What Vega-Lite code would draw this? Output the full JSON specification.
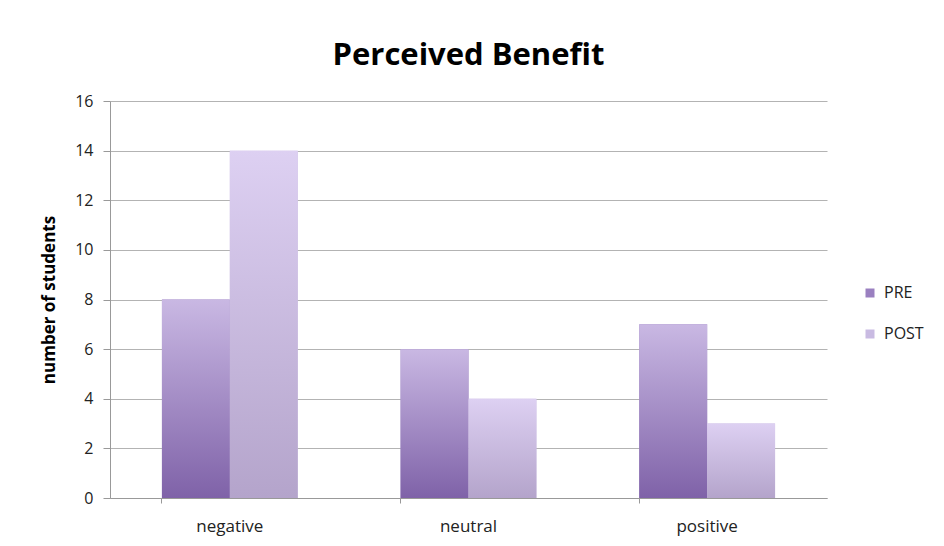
{
  "$schema": "https://vega.github.io/schema/vega-lite/v6.json",
  "autosize": {"type": "none"},
  "width": 717,
  "height": 397,
  "padding": {"left": 110, "top": 101, "right": 117, "bottom": 48},
  "background": "white",
  "config": {
    "font": "Open Sans",
    "view": {"stroke": null}
  },
  "title": {
    "text": "Perceived Benefit",
    "fontSize": 31,
    "fontWeight": "bold",
    "font": "Open Sans",
    "color": "#000000",
    "anchor": "middle",
    "offset": 21
  },
  "data": {
    "values": [
      {"category": "negative", "series": "PRE", "value": 8},
      {"category": "negative", "series": "POST", "value": 14},
      {"category": "neutral", "series": "PRE", "value": 6},
      {"category": "neutral", "series": "POST", "value": 4},
      {"category": "positive", "series": "PRE", "value": 7},
      {"category": "positive", "series": "POST", "value": 3}
    ]
  },
  "encoding": {
    "x": {
      "field": "category",
      "type": "nominal",
      "sort": ["negative", "neutral", "positive"],
      "scale": {"paddingInner": 0.431, "paddingOuter": 0.2176},
      "axis": {
        "title": null,
        "labelAngle": 0,
        "labelFontSize": 17,
        "labelColor": "#222222",
        "labelFont": "Open Sans",
        "labelPadding": 15,
        "tickSize": 5,
        "tickColor": "#999999",
        "domainColor": "#999999",
        "bandPosition": 0,
        "grid": false
      }
    },
    "xOffset": {
      "field": "series",
      "type": "nominal",
      "sort": ["PRE", "POST"],
      "scale": {"paddingInner": 0, "paddingOuter": 0}
    },
    "y": {
      "field": "value",
      "type": "quantitative",
      "scale": {"domain": [0, 16], "nice": false},
      "axis": {
        "title": "number of students",
        "titleFontSize": 17,
        "titleFontWeight": "bold",
        "titleFont": "Open Sans",
        "titleColor": "#000000",
        "titlePadding": 16,
        "values": [0, 2, 4, 6, 8, 10, 12, 14, 16],
        "labelFontSize": 16,
        "labelFont": "Open Sans",
        "labelColor": "#222222",
        "labelPadding": 10,
        "tickSize": 7,
        "tickColor": "#999999",
        "domainColor": "#999999",
        "gridColor": "#b3b3b3",
        "gridWidth": 1
      }
    }
  },
  "layer": [
    {
      "mark": {"type": "bar"},
      "encoding": {
        "color": {
          "field": "series",
          "type": "nominal",
          "sort": ["PRE", "POST"],
          "scale": {"domain": ["PRE", "POST"], "range": ["#9a80c0", "#c9bbe2"]},
          "legend": {
            "title": null,
            "orient": "none",
            "legendX": 752,
            "legendY": 184,
            "symbolType": "square",
            "symbolSize": 81,
            "symbolStrokeWidth": 0,
            "labelFontSize": 16,
            "labelFont": "Open Sans",
            "labelColor": "#222222",
            "rowPadding": 25,
            "labelOffset": 6
          }
        }
      }
    },
    {
      "mark": {"type": "bar"},
      "encoding": {
        "fill": {
          "condition": {
            "test": "datum.series === 'PRE'",
            "value": {
              "gradient": "linear",
              "x1": 0, "y1": 0, "x2": 0, "y2": 1,
              "stops": [
                {"offset": 0, "color": "#c9b8e3"},
                {"offset": 1, "color": "#7f62a8"}
              ]
            }
          },
          "value": {
            "gradient": "linear",
            "x1": 0, "y1": 0, "x2": 0, "y2": 1,
            "stops": [
              {"offset": 0, "color": "#ddd0f2"},
              {"offset": 1, "color": "#b4a4cb"}
            ]
          }
        }
      }
    }
  ]
}
